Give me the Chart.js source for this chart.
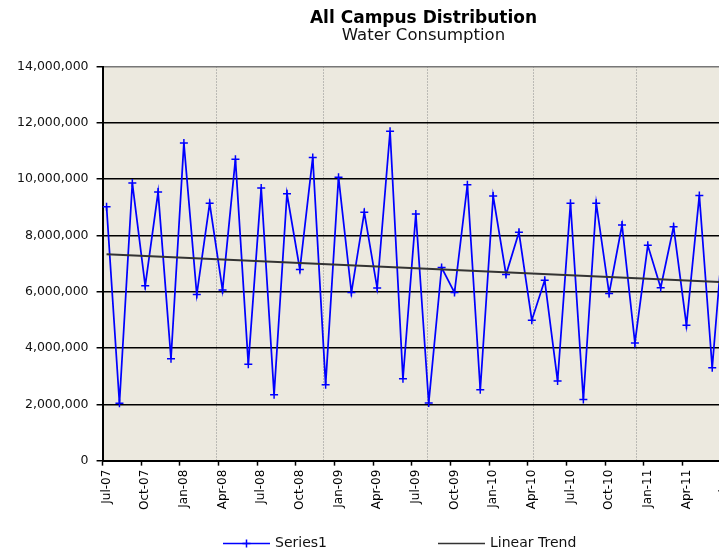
<!DOCTYPE html>
<html>
<head>
<meta charset="utf-8">
<script src="https://cdn.jsdelivr.net/npm/chart.js@4.4.1/dist/chart.umd.min.js"></script>
<style>
html,body{margin:0;padding:0;overflow:hidden;background:#fff}
#wrap{width:848px;height:555px}
</style>
</head>
<body>
<div id="wrap"><canvas id="waterChart"></canvas></div>
<script>
// monthly categories, Jul-07 .. Jul-11
const months = ["Jul-07","Aug-07","Sep-07","Oct-07","Nov-07","Dec-07",
"Jan-08","Feb-08","Mar-08","Apr-08","May-08","Jun-08","Jul-08","Aug-08","Sep-08","Oct-08","Nov-08","Dec-08",
"Jan-09","Feb-09","Mar-09","Apr-09","May-09","Jun-09","Jul-09","Aug-09","Sep-09","Oct-09","Nov-09","Dec-09",
"Jan-10","Feb-10","Mar-10","Apr-10","May-10","Jun-10","Jul-10","Aug-10","Sep-10","Oct-10","Nov-10","Dec-10",
"Jan-11","Feb-11","Mar-11","Apr-11","May-11","Jun-11","Jul-11"];

// Series1 - water consumption per month
const consumption = [9020000,2040000,9860000,6210000,9540000,3620000,
11280000,5900000,9140000,6060000,10710000,3420000,9680000,2340000,9480000,6790000,10770000,2700000,
10070000,5970000,8820000,6130000,11700000,2910000,8760000,2050000,6860000,5970000,9800000,2520000,
9400000,6610000,8110000,4990000,6410000,2830000,9140000,2170000,9140000,5940000,8370000,4180000,
7650000,6140000,8310000,4810000,9420000,3300000,8900000];

// linear trend, read at first and last month
const trendValues = [7330000, 6340000];

const yTicks = [0,2000000,4000000,6000000,8000000,10000000,12000000,14000000];
// dotted vertical grid lines (in month index units)
const vGrid = [8.52,16.85,24.9,33.1,41.1,49.2];

const xMin = -0.31, xMax = 56.76;

Chart.defaults.font.family = "'DejaVu Sans', sans-serif";

const plotBg = {
  id:"plotBg",
  beforeDraw(chart){
    const {ctx, chartArea:a} = chart;
    ctx.save();
    ctx.fillStyle = "#ECE9DF";
    ctx.fillRect(a.left, a.top, a.width, a.height);
    ctx.restore();
  }
};

// legend drawn like the excel one (long sample lines, wide gap)
const legendBox = {
  id:"legendBox",
  afterDraw(chart){
    const ctx = chart.ctx;
    const y = 543.5;
    const spots = [223, 438];
    ctx.save();
    ctx.font = "14px 'DejaVu Sans'";
    ctx.textBaseline = "middle";
    chart.data.datasets.forEach((ds, i) => {
      const x = spots[i];
      ctx.strokeStyle = ds.borderColor;
      ctx.lineWidth = 1.5;
      ctx.beginPath(); ctx.moveTo(x, y); ctx.lineTo(x + 47, y); ctx.stroke();
      if (ds.pointStyle === "cross") {
        ctx.beginPath();
        ctx.moveTo(x + 23.5, y - 4); ctx.lineTo(x + 23.5, y + 4);
        ctx.moveTo(x + 19.5, y); ctx.lineTo(x + 27.5, y);
        ctx.stroke();
      }
      ctx.fillStyle = "#111";
      ctx.fillText(ds.label, x + 52, y);
    });
    ctx.restore();
  }
};

new Chart(document.getElementById("waterChart"),{
  type:"line",
  data:{
    datasets:[{
      label:"Series1",
      data:consumption.map((v,i)=>({x:i,y:v})),
      borderColor:"#0000FF",
      borderWidth:1.75,
      pointStyle:"cross",
      pointRadius:4,
      pointBorderColor:"#0000FF",
      pointBorderWidth:1.5,
      tension:0,
      order:1
    },{
      label:"Linear Trend",
      data:[{x:0,y:trendValues[0]},{x:months.length-1,y:trendValues[1]}],
      borderColor:"#333333",
      borderWidth:2,
      pointRadius:0,
      order:0
    }]
  },
  options:{
    responsive:true,
    maintainAspectRatio:false,
    animation:false,
    events:[],
    layout:{padding:{left:9,right:10,top:0,bottom:41}},
    plugins:{
      legend:{display:false},
      tooltip:{enabled:false},
      title:{display:true,text:"All Campus Distribution",color:"#000",
        font:{size:17,weight:"bold",lineHeight:1},padding:{top:10,bottom:0}},
      subtitle:{display:true,text:"Water Consumption",color:"#111",
        font:{size:16.5,lineHeight:1},padding:{top:0,bottom:23}}
    },
    scales:{
      x:{
        type:"linear",position:"bottom",weight:1,min:xMin,max:xMax,
        afterBuildTicks:a=>{a.ticks=months.map((m,i)=>i).filter(i=>i%3===0).map(v=>({value:v}));},
        ticks:{callback:v=>months[v],autoSkip:false,maxRotation:90,minRotation:90,padding:4,color:"#000",font:{size:12}},
        grid:{display:false,drawTicks:false},
        border:{display:false}
      },
      xt:{
        type:"linear",position:"bottom",weight:0,min:xMin,max:xMax,
        afterBuildTicks:a=>{a.ticks=months.map((m,i)=>i).filter(i=>i%3===0).map(v=>({value:v-0.31}));},
        ticks:{display:false},
        grid:{drawOnChartArea:false,tickLength:5,tickColor:"#000",tickWidth:1.5},
        border:{display:true,color:"#000",width:2}
      },
      xg:{
        type:"linear",position:"bottom",weight:2,min:xMin,max:xMax,
        afterBuildTicks:a=>{a.ticks=vGrid.map(v=>({value:v}));},
        ticks:{display:false},
        grid:{drawTicks:false,color:"#8a8a8a",lineWidth:1},
        border:{display:false,dash:[1,2]}
      },
      y:{
        min:0,max:14000000,
        afterBuildTicks:a=>{a.ticks=yTicks.map(v=>({value:v}));},
        ticks:{callback:v=>v.toLocaleString("en-US"),color:"#111",font:{size:12.5},padding:8},
        grid:{color:c=>c.tick&&c.tick.value===14000000?"#777":"#000",lineWidth:1.5,tickLength:6,tickColor:"#000"},
        border:{color:"#000",width:2}
      }
    }
  },
  plugins:[plotBg,legendBox]
});
</script>
</body>
</html>
